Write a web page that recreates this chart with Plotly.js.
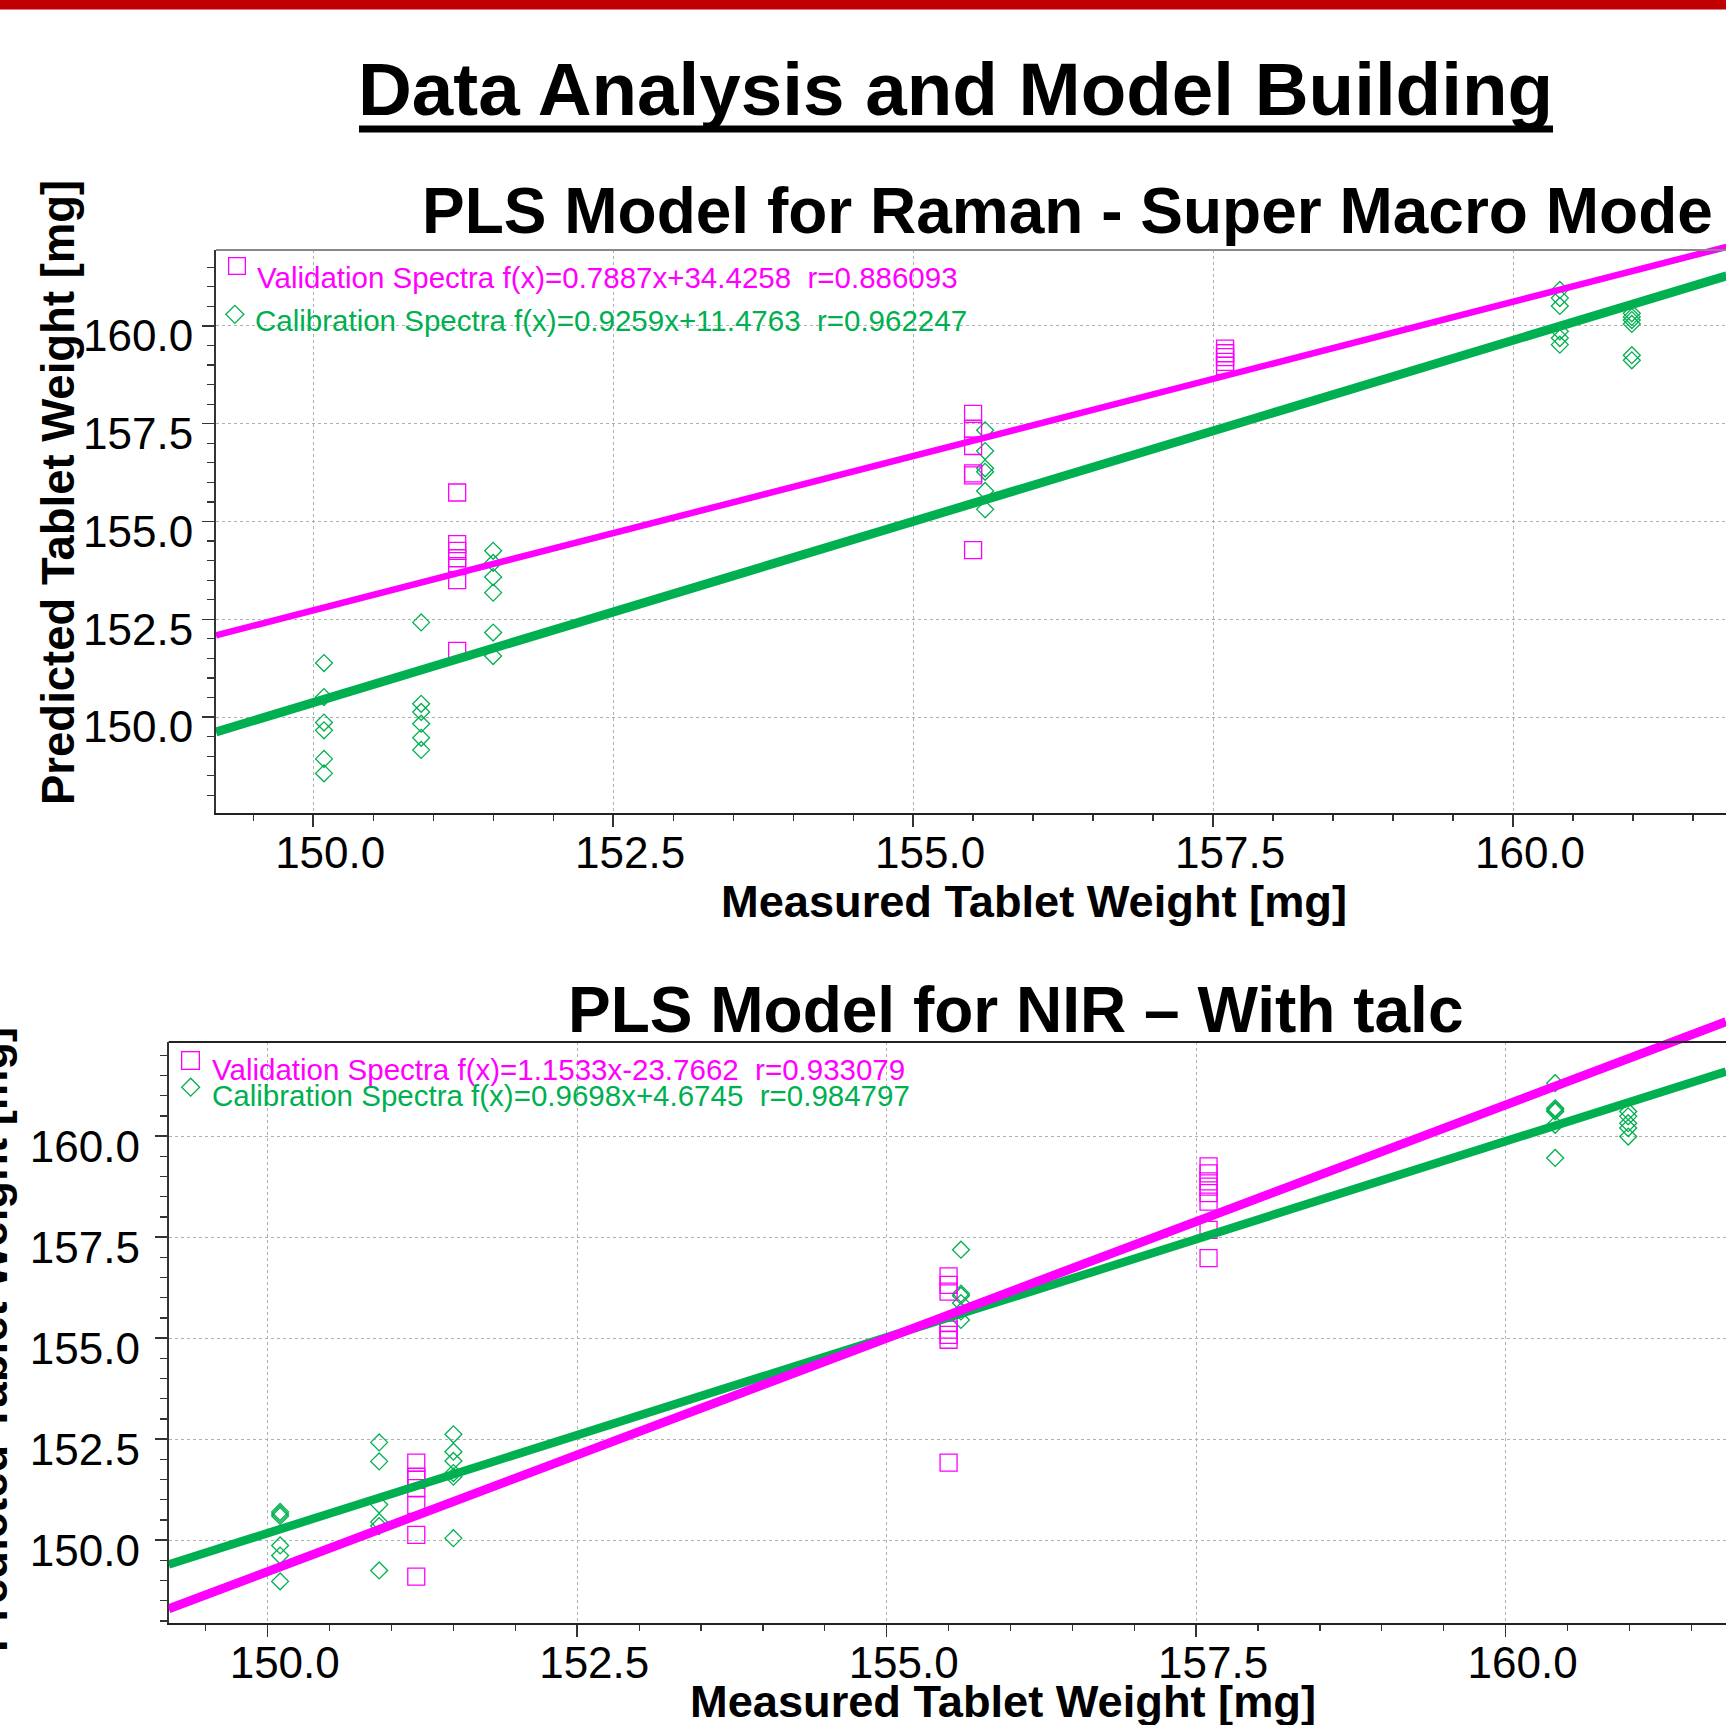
<!DOCTYPE html>
<html>
<head>
<meta charset="utf-8">
<script src="https://cdn.plot.ly/plotly-3.0.1.min.js"></script>
<style>
html,body{margin:0;padding:0;background:#fff;}
#chart{width:1726px;height:1725px;}
</style>
</head>
<body>
<div id="chart"></div>
<script>
// ---------------- DATA ----------------
const mainTitle = "Data Analysis and Model Building";
const ramanTitle = "PLS Model for Raman - Super Macro Mode";
const nirTitle = "PLS Model for NIR \u2013 With talc";
const xTitle = "Measured Tablet Weight [mg]";
const yTitle = "Predicted Tablet Weight [mg]";

const ramanValLabel = "Validation Spectra f(x)=0.7887x+34.4258 \u00a0r=0.886093";
const ramanCalLabel = "Calibration Spectra f(x)=0.9259x+11.4763 \u00a0r=0.962247";
const nirValLabel = "Validation Spectra f(x)=1.1533x-23.7662 \u00a0r=0.933079";
const nirCalLabel = "Calibration Spectra f(x)=0.9698x+4.6745 \u00a0r=0.984797";

// Raman - calibration (green diamonds)
const ramanCalX = [150.09,150.09,150.09,150.09,150.09,150.09,
                   150.90,150.90,150.90,150.90,150.90,150.90,
                   151.50,151.50,151.50,151.50,151.50,151.50,
                   155.60,155.60,155.60,155.60,155.60,155.60,
                   160.39,160.39,160.39,160.39,160.39,160.39,
                   160.99,160.99,160.99,160.99,160.99,160.99];
const ramanCalY = [151.38,150.51,149.86,149.66,148.93,148.56,
                   152.42,150.34,150.13,149.83,149.47,149.16,
                   154.25,153.94,153.58,153.18,152.16,151.56,
                   157.33,156.80,156.36,156.27,155.78,155.31,
                   160.92,160.71,160.51,159.86,159.69,159.52,
                   160.32,160.23,160.15,160.05,159.25,159.12];
// Raman - validation (magenta squares)
const ramanValX = [151.20,151.20,151.20,151.20,151.20,151.20,151.20,
                   155.50,155.50,155.50,155.50,155.50,155.50,
                   157.60,157.60,157.60,157.60,157.60];
const ramanValY = [155.74,154.42,154.25,154.06,153.86,153.50,151.69,
                   157.75,157.37,156.93,156.23,156.18,154.27,
                   159.42,159.30,159.20,159.08,158.98];
// Raman - fitted lines (end points)
const ramanFitX = [149.19, 161.78];
const ramanValFitY = [152.09, 162.02];
const ramanCalFitY = [149.62, 161.28];

// NIR - calibration (green diamonds)
const nirCalX = [150.10,150.10,150.10,150.10,150.10,150.10,
                 150.90,150.90,150.90,150.90,150.90,150.90,
                 151.50,151.50,151.50,151.50,151.50,151.50,
                 155.60,155.60,155.60,155.60,155.60,155.60,
                 160.40,160.40,160.40,160.40,160.40,160.40,
                 160.99,160.99,160.99,160.99,160.99];
const nirCalY = [150.70,150.65,150.60,149.87,149.62,148.98,
                 152.42,151.95,150.88,150.45,150.35,149.25,
                 152.62,152.19,151.96,151.66,151.57,150.05,
                 157.19,156.10,156.05,155.87,155.66,155.45,
                 161.31,160.69,160.65,160.61,160.28,159.46,
                 160.61,160.49,160.32,160.20,159.99];
// NIR - validation (magenta squares)
const nirValX = [151.20,151.20,151.20,151.20,151.20,151.20,151.20,
                 155.50,155.50,155.50,155.50,155.50,155.50,155.50,155.50,
                 157.60,157.60,157.60,157.60,157.60,157.60,157.60,157.60];
const nirValY = [151.92,151.57,151.49,151.29,150.87,150.13,149.10,
                 156.53,156.32,156.15,155.37,155.21,155.08,154.96,151.92,
                 159.25,159.08,158.88,158.75,158.59,158.38,157.68,156.98];
// NIR - fitted lines
const nirFitX = [149.20, 161.78];
const nirValFitY = [148.30, 162.83];
const nirCalFitY = [149.40, 161.60];

// ---------------- STYLE / LAYOUT ----------------
const W = 1726, H = 1725;
const MAG = '#FF00FF', GRN = '#00B050';
const FONT = 'Liberation Sans, Arial, Helvetica, sans-serif';
const px = p => p / W;
const py = p => 1 - p / H;

// plot frames (pixels)
const top1 = {l:216, t:250, b:812.5, xr:[149.19,161.775], yr:[147.56,161.94], ext:205,
              shiftY:10, standY:0, standX:-11, valW:6.5, calW:9};
const bot1 = {l:168.7, t:1042, b:1623, xr:[149.20,161.78], yr:[147.95,162.33], ext:995,
              shiftY:10, standY:6, standX:-12, valW:9, calW:8.5};

function extRange(f){
  const d0 = py(f.b), d1 = py(f.t), de = py(f.ext);
  const upp = (f.yr[1]-f.yr[0])/(d1-d0);
  return [f.yr[0], f.yr[0] + (de-d0)*upp];
}

function xAxis(f, anchor){
  return {
    domain:[px(f.l),1], range:f.xr, anchor:anchor,
    tick0:150, dtick:2.5, tickformat:'.1f',
    ticks:'outside', ticklen:12, tickwidth:1.5, tickcolor:'#333',
    showline:true, linecolor:'#222', linewidth:2,
    showgrid:true, gridcolor:'#b0b0b0', griddash:'dot', gridwidth:1,
    zeroline:false, ticklabelshift:17, ticklabelstandoff:f.standX,
    tickfont:{family:FONT, size:44, color:'#000'},
    minor:{tick0:150, dtick:0.5, ticks:'outside', ticklen:6, tickwidth:1.2, tickcolor:'#333', showgrid:false},
    fixedrange:true
  };
}
function yAxis(f, anchor){
  return {
    domain:[py(f.b), py(f.t)], range:f.yr, anchor:anchor,
    tick0:150, dtick:2.5, tickformat:'.1f',
    ticks:'outside', ticklen:12, tickwidth:1.5, tickcolor:'#333',
    showline:true, linecolor:'#333', linewidth:2,
    showgrid:true, gridcolor:'#b0b0b0', griddash:'dot', gridwidth:1,
    zeroline:false, ticklabelshift:f.shiftY, ticklabelstandoff:f.standY,
    tickfont:{family:FONT, size:44, color:'#000'},
    minor:{tick0:150, dtick:0.5, ticks:'outside', ticklen:7, tickwidth:1.2, tickcolor:'#333', showgrid:false},
    fixedrange:true
  };
}
function hiddenX(f, anchor){ return {domain:[px(f.l),1], range:f.xr, anchor:anchor, visible:false, fixedrange:true}; }
function hiddenY(f, anchor){ return {domain:[py(f.b), py(f.ext)], range:extRange(f), anchor:anchor, visible:false, fixedrange:true}; }

const calMarker = {symbol:'diamond-open', size:13, color:GRN, line:{color:GRN, width:1.3}};
const valMarker = {symbol:'square-open', size:17, color:MAG, line:{color:MAG, width:1.3}};

const traces = [
  {type:'scatter', mode:'lines', x:ramanFitX, y:ramanCalFitY, xaxis:'x3', yaxis:'y3', line:{color:GRN, width:top1.calW}, hoverinfo:'skip'},
  {type:'scatter', mode:'lines', x:ramanFitX, y:ramanValFitY, xaxis:'x3', yaxis:'y3', line:{color:MAG, width:top1.valW}, hoverinfo:'skip'},
  {type:'scatter', mode:'lines', x:nirFitX, y:nirCalFitY, xaxis:'x4', yaxis:'y4', line:{color:GRN, width:bot1.calW}, hoverinfo:'skip'},
  {type:'scatter', mode:'lines', x:nirFitX, y:nirValFitY, xaxis:'x4', yaxis:'y4', line:{color:MAG, width:bot1.valW}, hoverinfo:'skip'},
  {type:'scatter', mode:'markers', x:ramanCalX, y:ramanCalY, xaxis:'x', yaxis:'y', marker:calMarker, hoverinfo:'x+y'},
  {type:'scatter', mode:'markers', x:ramanValX, y:ramanValY, xaxis:'x', yaxis:'y', marker:valMarker, hoverinfo:'x+y'},
  {type:'scatter', mode:'markers', x:nirCalX, y:nirCalY, xaxis:'x2', yaxis:'y2', marker:calMarker, hoverinfo:'x+y'},
  {type:'scatter', mode:'markers', x:nirValX, y:nirValY, xaxis:'x2', yaxis:'y2', marker:valMarker, hoverinfo:'x+y'}
];

function txt(text, xPix, yPix, size, color, opts){
  return Object.assign({
    text:text, x:px(xPix), y:py(yPix), xref:'paper', yref:'paper',
    xanchor:'center', yanchor:'middle', showarrow:false, borderpad:0,
    font:{family:FONT, size:size, color:color}
  }, opts||{});
}
function boxSym(xPix, yPix, size, color, angle){
  return {
    text:'&nbsp;', x:px(xPix), y:py(yPix), xref:'paper', yref:'paper',
    xanchor:'center', yanchor:'middle', showarrow:false,
    width:size, height:size, borderpad:0, borderwidth:1.3, bordercolor:color,
    textangle:angle||0, font:{size:4, color:color}
  };
}

const annotations = [
  txt('<b>'+mainTitle+'</b>', 955, 89, 74.6, '#000'),
  txt('<b>'+ramanTitle+'</b>', 421, 211, 64, '#000', {xanchor:'left'}),
  txt('<b>'+nirTitle+'</b>', 567, 1010, 64, '#000', {xanchor:'left'}),
  txt('<b>'+xTitle+'</b>', 1034, 901, 45.2, '#000'),
  txt('<b>'+xTitle+'</b>', 1003, 1701, 45.2, '#000'),
  txt('<b>'+yTitle+'</b>', 59, 493, 45.5, '#000', {textangle:-90}),
  txt('<b>'+yTitle+'</b>', -9, 1340, 45.5, '#000', {textangle:-90}),
  // legends
  boxSym(237, 266.5, 15.5, MAG, 0),
  txt(ramanValLabel, 256, 277, 29.5, MAG, {xanchor:'left'}),
  boxSym(234.5, 314, 11, GRN, 45),
  txt(ramanCalLabel, 254, 320, 29.5, GRN, {xanchor:'left'}),
  boxSym(190, 1060, 16.5, MAG, 0),
  txt(nirValLabel, 211, 1069.5, 29.5, MAG, {xanchor:'left'}),
  boxSym(190.6, 1086.7, 11, GRN, 45),
  txt(nirCalLabel, 211, 1095, 29.5, GRN, {xanchor:'left'})
];

const shapes = [
  // red bar across the top of the slide
  {type:'rect', xref:'paper', yref:'paper', x0:0, x1:1, y0:py(9.5), y1:1, fillcolor:'#C00000', line:{width:0}, layer:'above'},
  // title underline
  {type:'line', xref:'paper', yref:'paper', x0:px(359), x1:px(1553), y0:py(129), y1:py(129), line:{color:'#000', width:7}},
  // top borders of the two plot frames
  {type:'line', xref:'x domain', yref:'y domain', x0:0, x1:1, y0:1, y1:1, line:{color:'#888', width:2}},
  {type:'line', xref:'x2 domain', yref:'y2 domain', x0:0, x1:1, y0:1, y1:1, line:{color:'#222', width:2}}
];

const layout = {
  width:W, height:H, margin:{l:0, r:0, t:0, b:0, pad:0},
  paper_bgcolor:'#ffffff', plot_bgcolor:'rgba(0,0,0,0)', showlegend:false,
  font:{family:FONT, color:'#000'},
  xaxis:xAxis(top1,'y'), yaxis:yAxis(top1,'x'),
  xaxis2:xAxis(bot1,'y2'), yaxis2:yAxis(bot1,'x2'),
  xaxis3:hiddenX(top1,'y3'), yaxis3:hiddenY(top1,'x3'),
  xaxis4:hiddenX(bot1,'y4'), yaxis4:hiddenY(bot1,'x4'),
  annotations:annotations, shapes:shapes, hovermode:'closest'
};

Plotly.newPlot('chart', traces, layout, {displayModeBar:false, staticPlot:true});
</script>
</body>
</html>
